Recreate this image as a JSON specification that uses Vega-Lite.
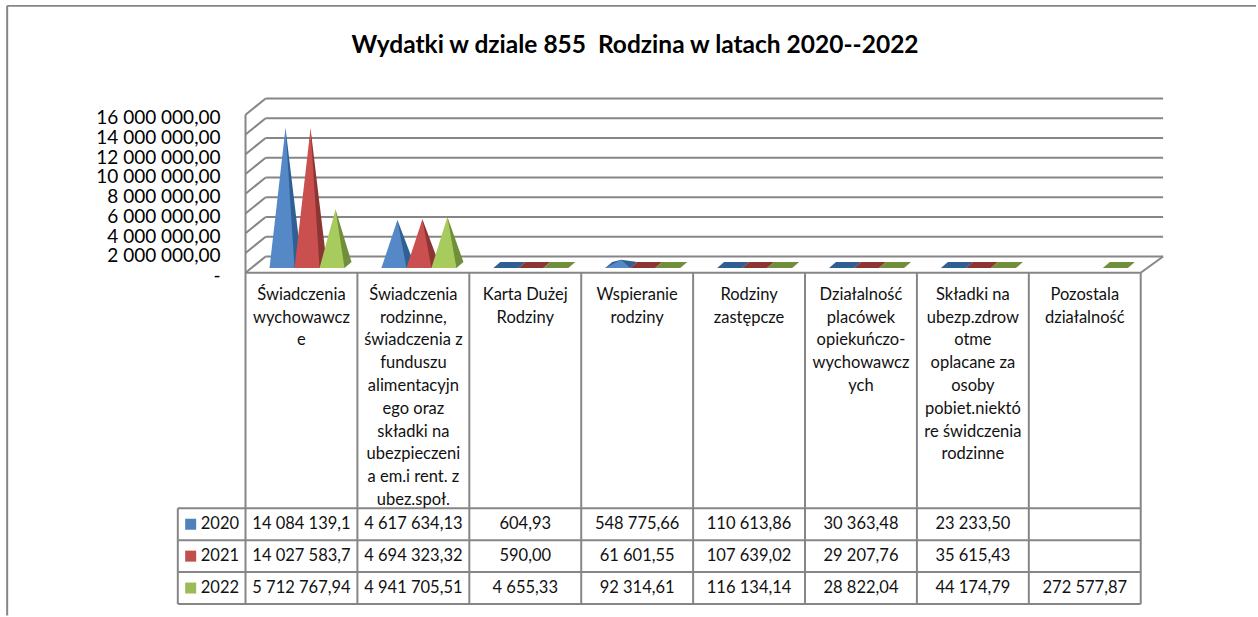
{"$schema":"https://vega.github.io/schema/vega-lite/v6.json","width":1258,"height":617,"padding":0,"autosize":{"type":"fit","contains":"padding"},"background":"white","config":{"view":{"stroke":null},"text":{"font":"Lato"},"font":"Lato"},"title":{"text":"Wydatki w dziale 855 \u00a0Rodzina w latach 2020--2022","font":"Lato","fontSize":24.5,"fontWeight":"bold","color":"#000000","anchor":"middle","frame":"group","dx":6,"offset":-58},"datasets":{"dane":[{"kategoria":"Świadczenia wychowawcze","nr":1,"rok":2020,"wartosc":14084139.1,"tekst":"14 084 139,1"},{"kategoria":"Świadczenia wychowawcze","nr":1,"rok":2021,"wartosc":14027583.7,"tekst":"14 027 583,7"},{"kategoria":"Świadczenia wychowawcze","nr":1,"rok":2022,"wartosc":5712767.94,"tekst":"5 712 767,94"},{"kategoria":"Świadczenia rodzinne","nr":2,"rok":2020,"wartosc":4617634.13,"tekst":"4 617 634,13"},{"kategoria":"Świadczenia rodzinne","nr":2,"rok":2021,"wartosc":4694323.32,"tekst":"4 694 323,32"},{"kategoria":"Świadczenia rodzinne","nr":2,"rok":2022,"wartosc":4941705.51,"tekst":"4 941 705,51"},{"kategoria":"Karta Dużej Rodziny","nr":3,"rok":2020,"wartosc":604.93,"tekst":"604,93"},{"kategoria":"Karta Dużej Rodziny","nr":3,"rok":2021,"wartosc":590,"tekst":"590,00"},{"kategoria":"Karta Dużej Rodziny","nr":3,"rok":2022,"wartosc":4655.33,"tekst":"4 655,33"},{"kategoria":"Wspieranie rodziny","nr":4,"rok":2020,"wartosc":548775.66,"tekst":"548 775,66"},{"kategoria":"Wspieranie rodziny","nr":4,"rok":2021,"wartosc":61601.55,"tekst":"61 601,55"},{"kategoria":"Wspieranie rodziny","nr":4,"rok":2022,"wartosc":92314.61,"tekst":"92 314,61"},{"kategoria":"Rodziny zastępcze","nr":5,"rok":2020,"wartosc":110613.86,"tekst":"110 613,86"},{"kategoria":"Rodziny zastępcze","nr":5,"rok":2021,"wartosc":107639.02,"tekst":"107 639,02"},{"kategoria":"Rodziny zastępcze","nr":5,"rok":2022,"wartosc":116134.14,"tekst":"116 134,14"},{"kategoria":"Działalność placówek","nr":6,"rok":2020,"wartosc":30363.48,"tekst":"30 363,48"},{"kategoria":"Działalność placówek","nr":6,"rok":2021,"wartosc":29207.76,"tekst":"29 207,76"},{"kategoria":"Działalność placówek","nr":6,"rok":2022,"wartosc":28822.04,"tekst":"28 822,04"},{"kategoria":"Składki na ubezp.","nr":7,"rok":2020,"wartosc":23233.5,"tekst":"23 233,50"},{"kategoria":"Składki na ubezp.","nr":7,"rok":2021,"wartosc":35615.43,"tekst":"35 615,43"},{"kategoria":"Składki na ubezp.","nr":7,"rok":2022,"wartosc":44174.79,"tekst":"44 174,79"},{"kategoria":"Pozostala działalność","nr":8,"rok":2022,"wartosc":272577.87,"tekst":"272 577,87"}],"naglowki":[{"nr":1,"naglowek":"Świadczenia\nwychowawcz\ne"},{"nr":2,"naglowek":"Świadczenia\nrodzinne,\nświadczenia z\nfunduszu\nalimentacyjn\nego oraz\nskładki na\nubezpieczeni\na em.i rent. z\nubez.społ."},{"nr":3,"naglowek":"Karta Dużej\nRodziny"},{"nr":4,"naglowek":"Wspieranie\nrodziny"},{"nr":5,"naglowek":"Rodziny\nzastępcze"},{"nr":6,"naglowek":"Działalność\nplacówek\nopiekuńczo-\nwychowawcz\nych"},{"nr":7,"naglowek":"Składki na\nubezp.zdrow\notme\noplacane za\nosoby\npobiet.niektó\nre świdczenia\nrodzinne"},{"nr":8,"naglowek":"Pozostala\ndziałalność"}],"progi":[{"prog":0},{"prog":2000000},{"prog":4000000},{"prog":6000000},{"prog":8000000},{"prog":10000000},{"prog":12000000},{"prog":14000000},{"prog":16000000}],"kolumny":[{"k":0},{"k":1},{"k":2},{"k":3},{"k":4},{"k":5},{"k":6},{"k":7},{"k":8}],"wiersze":[{"w":0},{"w":1},{"w":2},{"w":3}],"lata":[{"rok":2020,"w":0},{"rok":2021,"w":1},{"rok":2022,"w":2}]},"resolve":{"scale":{"y":"independent"}},"layer":[{"data":{"name":"kolumny"},"mark":{"type":"rule","color":"#868686","strokeWidth":1.6},"transform":[{"filter":"datum.k==0"}],"encoding":{"x":{"datum":-2.13,"type":"quantitative","scale":{"domain":[-2.194,9.048],"nice":false,"zero":false},"axis":null},"x2":{"datum":9.03},"y":{"datum":-15.75,"type":"quantitative","scale":{"domain":[3.408,-15.934],"nice":false,"zero":false},"axis":null}}},{"data":{"name":"kolumny"},"mark":{"type":"rule","color":"#868686","strokeWidth":2},"transform":[{"filter":"datum.k==0"}],"encoding":{"x":{"datum":-2.13,"type":"quantitative","scale":{"domain":[-2.194,9.048],"nice":false,"zero":false},"axis":null},"y":{"datum":-15.75,"type":"quantitative","scale":{"domain":[3.408,-15.934],"nice":false,"zero":false},"axis":null},"y2":{"datum":3.36}}},{"data":{"name":"progi"},"mark":{"type":"rule","color":"#868686","strokeWidth":2},"transform":[{"calculate":"datum.prog+1640000","as":"tyl"}],"encoding":{"x":{"datum":0.18,"type":"quantitative","scale":{"domain":[-2.194,9.048],"nice":false,"zero":false},"axis":null},"x2":{"datum":8.2},"y":{"field":"tyl","type":"quantitative","scale":{"domain":[-34866000,27615000],"nice":false,"zero":false},"axis":{"values":[0,2000000,4000000,6000000,8000000,10000000,12000000,14000000,16000000],"orient":"left","offset":-220,"domain":false,"ticks":false,"grid":false,"title":null,"labelPadding":0,"labelOffset":3,"labelFont":"Lato","labelFontSize":19,"labelColor":"#000000","labelExpr":"datum.value==0 ? '-' : replace(replace(format(datum.value,',.2f'),/,/g,' '),'.',',')"}}}},{"data":{"name":"progi"},"mark":{"type":"rule","color":"#868686","strokeWidth":2},"transform":[{"calculate":"datum.prog+1640000","as":"tyl"}],"encoding":{"x":{"datum":0,"type":"quantitative","scale":{"domain":[-2.194,9.048],"nice":false,"zero":false},"axis":null},"x2":{"datum":0.18},"y":{"field":"prog","type":"quantitative","scale":{"domain":[-34866000,27615000],"nice":false,"zero":false},"axis":null},"y2":{"field":"tyl"}}},{"data":{"name":"progi"},"mark":{"type":"rule","color":"#868686","strokeWidth":2},"transform":[{"filter":"datum.prog==0"},{"calculate":"datum.prog+1640000","as":"tyl"}],"encoding":{"x":{"datum":8,"type":"quantitative","scale":{"domain":[-2.194,9.048],"nice":false,"zero":false},"axis":null},"x2":{"datum":8.2},"y":{"field":"prog","type":"quantitative","scale":{"domain":[-34866000,27615000],"nice":false,"zero":false},"axis":null},"y2":{"field":"tyl"}}},{"data":{"name":"progi"},"mark":{"type":"rule","color":"#868686","strokeWidth":2},"transform":[{"filter":"datum.prog==0"}],"encoding":{"x":{"datum":0,"type":"quantitative","scale":{"domain":[-2.194,9.048],"nice":false,"zero":false},"axis":null},"x2":{"datum":8},"y":{"field":"prog","type":"quantitative","scale":{"domain":[-34866000,27615000],"nice":false,"zero":false},"axis":null}}},{"data":{"name":"progi"},"mark":{"type":"rule","color":"#868686","strokeWidth":2},"transform":[{"filter":"datum.prog==0"}],"encoding":{"x":{"datum":0,"type":"quantitative","scale":{"domain":[-2.194,9.048],"nice":false,"zero":false},"axis":null},"y":{"field":"prog","type":"quantitative","scale":{"domain":[-34866000,27615000],"nice":false,"zero":false},"axis":null},"y2":{"datum":16000000}}},{"data":{"name":"dane"},"mark":{"type":"line","filled":true,"strokeWidth":0,"interpolate":"linear"},"transform":[{"calculate":"datum.wartosc>300000 ? ['tył','przód'] : ['tył']","as":"sciana"},{"flatten":["sciana"]},{"calculate":"datum.nr-1+0.2145+(datum.rok-2020)*0.2235","as":"xl"},{"calculate":"datum.xl+0.2235","as":"xr"},{"calculate":"datum.xl+0.1117+0.0313","as":"xa"},{"calculate":"776000+datum.wartosc*0.985","as":"ya"},{"calculate":"datum.sciana=='tył' ? [datum.xl,datum.xr,datum.xr+0.0626,datum.xa,datum.xl+0.0626] : [datum.xl,datum.xr,datum.xa]","as":"px"},{"calculate":"datum.sciana=='tył' ? [476000,476000,1076000,max(datum.ya,1076000),1076000] : [476000,476000,datum.ya]","as":"py"},{"calculate":"datum.sciana=='tył' ? [0,1,2,3,4] : [0,1,2]","as":"krok"},{"flatten":["px","py","krok"]},{"calculate":"datum.nr+' '+datum.rok+' '+datum.sciana","as":"grupa"},{"calculate":"datum.rok+' '+datum.sciana","as":"klucz"}],"encoding":{"x":{"field":"px","type":"quantitative","scale":{"domain":[-2.194,9.048],"nice":false,"zero":false},"axis":null},"y":{"field":"py","type":"quantitative","scale":{"domain":[-34866000,27615000],"nice":false,"zero":false},"axis":null},"order":{"field":"krok"},"detail":{"field":"grupa"},"color":{"field":"klucz","type":"nominal","legend":null,"scale":{"domain":["2020 tył","2020 przód","2021 tył","2021 przód","2022 tył","2022 przód","2020","2021","2022"],"range":["#2F5F93","#5588C6","#8C3533","#C9504E","#718F3B","#A8CB5E","#4F81BD","#C0504D","#9BBB59"]}}}},{"data":{"name":"kolumny"},"mark":{"type":"rule","color":"#868686","strokeWidth":2},"encoding":{"x":{"field":"k","type":"quantitative","scale":{"domain":[-2.194,9.048],"nice":false,"zero":false},"axis":null},"y":{"datum":-7.39,"type":"quantitative","scale":{"domain":[3.408,-15.934],"nice":false,"zero":false},"axis":null},"y2":{"datum":3}}},{"data":{"name":"wiersze"},"mark":{"type":"rule","color":"#868686","strokeWidth":2},"encoding":{"x":{"datum":-0.605,"type":"quantitative","scale":{"domain":[-2.194,9.048],"nice":false,"zero":false},"axis":null},"x2":{"datum":8},"y":{"field":"w","type":"quantitative","scale":{"domain":[3.408,-15.934],"nice":false,"zero":false},"axis":null}}},{"data":{"name":"wiersze"},"mark":{"type":"rule","color":"#868686","strokeWidth":2},"transform":[{"filter":"datum.w==0"}],"encoding":{"x":{"datum":-0.605,"type":"quantitative","scale":{"domain":[-2.194,9.048],"nice":false,"zero":false},"axis":null},"y":{"field":"w","type":"quantitative","scale":{"domain":[3.408,-15.934],"nice":false,"zero":false},"axis":null},"y2":{"datum":3}}},{"data":{"name":"naglowki"},"mark":{"type":"text","font":"Lato","fontSize":16.5,"color":"#111111","align":"center","baseline":"top","lineBreak":"\n","lineHeight":22.8},"transform":[{"calculate":"datum.nr-0.5","as":"srodek"}],"encoding":{"x":{"field":"srodek","type":"quantitative","scale":{"domain":[-2.194,9.048],"nice":false,"zero":false},"axis":null},"y":{"datum":-6.94,"type":"quantitative","scale":{"domain":[3.408,-15.934],"nice":false,"zero":false},"axis":null},"text":{"field":"naglowek"}}},{"data":{"name":"dane"},"mark":{"type":"text","font":"Lato","fontSize":16.5,"color":"#111111","align":"center","baseline":"middle"},"transform":[{"calculate":"datum.nr-0.5","as":"srodek"},{"calculate":"datum.rok-2020+0.5","as":"w"}],"encoding":{"x":{"field":"srodek","type":"quantitative","scale":{"domain":[-2.194,9.048],"nice":false,"zero":false},"axis":null},"y":{"field":"w","type":"quantitative","scale":{"domain":[3.408,-15.934],"nice":false,"zero":false},"axis":null},"text":{"field":"tekst"}}},{"data":{"name":"lata"},"mark":{"type":"point","shape":"square","filled":true,"size":121,"opacity":1},"transform":[{"calculate":"datum.w+0.5","as":"s"},{"calculate":"''+datum.rok","as":"klucz"}],"encoding":{"x":{"datum":-0.49,"type":"quantitative","scale":{"domain":[-2.194,9.048],"nice":false,"zero":false},"axis":null},"y":{"field":"s","type":"quantitative","scale":{"domain":[3.408,-15.934],"nice":false,"zero":false},"axis":null},"color":{"field":"klucz","type":"nominal","legend":null}}},{"data":{"name":"lata"},"mark":{"type":"text","font":"Lato","fontSize":16.5,"color":"#111111","align":"left","baseline":"middle"},"transform":[{"calculate":"datum.w+0.5","as":"s"},{"calculate":"''+datum.rok","as":"etykieta"}],"encoding":{"x":{"datum":-0.4,"type":"quantitative","scale":{"domain":[-2.194,9.048],"nice":false,"zero":false},"axis":null},"y":{"field":"s","type":"quantitative","scale":{"domain":[3.408,-15.934],"nice":false,"zero":false},"axis":null},"text":{"field":"etykieta"}}}]}
